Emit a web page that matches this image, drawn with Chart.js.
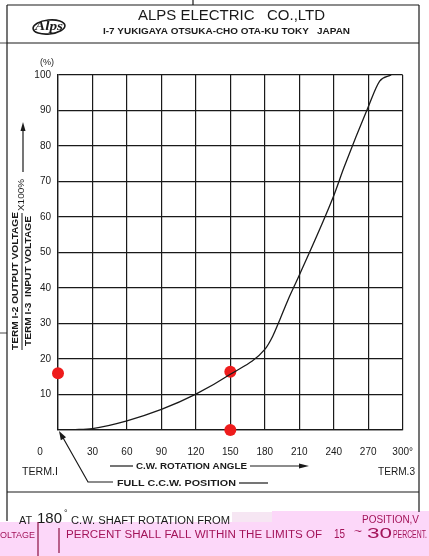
<!DOCTYPE html>
<html>
<head>
<meta charset="utf-8">
<script src="https://cdn.jsdelivr.net/npm/chart.js@4.4.1/dist/chart.umd.min.js"></script>
<style>
  html, body { margin: 0; padding: 0; background: #fff; }
  canvas { display: block; }
</style>
</head>
<body>
<canvas id="curva" width="429" height="556"></canvas>
<script>
// angulo de giro (grados) y tension de salida (%)
const angles = [0, 15, 30, 60, 90, 120, 150, 180, 187, 193, 200, 210, 240, 249, 270, 280, 290];
const outputPct = [0, 0.1, 0.4, 2.6, 5.8, 10.1, 15.7, 22.7, 26.5, 31, 36.5, 43.6, 66, 74, 91, 98.3, 100];

// puntos rojos marcados a mano
const dotAngles = [0, 150, 150];
const dotPct = [16, 16.4, 0];

const xTicks = [0, 30, 60, 90, 120, 150, 180, 210, 240, 270, 300];
const yTicks = [0, 10, 20, 30, 40, 50, 60, 70, 80, 90, 100];

const INK = '#1a1a1a';
const MAGENTA = '#a3145a';
const FONT = '"Liberation Sans", Arial, sans-serif';

function txt(ctx, s, x, y, o) {
  o = o || {};
  ctx.save();
  ctx.translate(x, y);
  if (o.rot) ctx.rotate(o.rot);
  ctx.font = (o.weight || 'normal') + ' ' + (o.size || 10) + 'px ' + (o.family || FONT);
  ctx.fillStyle = o.color || INK;
  ctx.textBaseline = 'middle';
  ctx.textAlign = 'left';
  const m = ctx.measureText(s).width;
  const w = o.w || m;
  const left = o.align === 'center' ? -w / 2 : (o.align === 'right' ? -w : 0);
  ctx.translate(left, 0);
  ctx.scale(w / m, 1);
  ctx.fillText(s, 0, 0);
  ctx.restore();
}

function line(ctx, pts, color, width) {
  ctx.save();
  ctx.strokeStyle = color || INK;
  ctx.lineWidth = width || 1.2;
  ctx.beginPath();
  ctx.moveTo(pts[0][0], pts[0][1]);
  for (let i = 1; i < pts.length; i++) ctx.lineTo(pts[i][0], pts[i][1]);
  ctx.stroke();
  ctx.restore();
}

function arrowHead(ctx, x, y, ang, len, half) {
  ctx.save();
  ctx.fillStyle = INK;
  ctx.translate(x, y);
  ctx.rotate(ang);
  ctx.beginPath();
  ctx.moveTo(0, 0);
  ctx.lineTo(-len, -half);
  ctx.lineTo(-len, half);
  ctx.closePath();
  ctx.fill();
  ctx.restore();
}

const hoja = {
  id: 'hoja',
  beforeDraw(chart) {
    const ctx = chart.ctx;
    ctx.save();
    ctx.fillStyle = '#fff';
    ctx.fillRect(0, 0, chart.width, chart.height);
    // zona rosa del pie
    ctx.fillStyle = '#fcd7f9';
    ctx.fillRect(0, 522, chart.width, 34);
    ctx.fillRect(272, 511, chart.width - 272, 12);
    ctx.fillStyle = '#f6e6f3';
    ctx.fillRect(232, 512, 40, 10);
    ctx.restore();
  },
  afterDraw(chart) {
    const ctx = chart.ctx;
    const a = chart.chartArea;

    // marco
    line(ctx, [[7, 5], [419, 5]]);
    line(ctx, [[7, 5], [7, 521]]);
    line(ctx, [[419, 5], [419, 512]]);
    line(ctx, [[7, 43], [419, 43]]);
    line(ctx, [[0, 43], [7, 43]], INK, 0.8);
    line(ctx, [[7, 492], [419, 492]]);
    line(ctx, [[193, 0], [193, 5]]);
    line(ctx, [[0, 333], [7, 333]], INK, 0.8);

    // cabecera
    ctx.save();
    ctx.strokeStyle = INK;
    ctx.lineWidth = 1.6;
    ctx.beginPath();
    ctx.ellipse(49, 27, 16, 7, -0.1, 0, Math.PI * 2);
    ctx.stroke();
    ctx.restore();
    txt(ctx, 'Alps', 49, 27, { size: 12, weight: 'italic bold', family: '"Liberation Serif", serif', align: 'center', w: 28 });
    txt(ctx, 'ALPS ELECTRIC   CO.,LTD', 138, 16, { size: 14, w: 187 });
    txt(ctx, 'I-7 YUKIGAYA OTSUKA-CHO OTA-KU TOKY   JAPAN', 103, 32, { size: 9, weight: 'bold', w: 247 });

    // eje y: unidades y rotulo
    txt(ctx, '(%)', 47, 63, { size: 9, align: 'center' });
    line(ctx, [[23, 172], [23, 130]], INK, 1.2);
    arrowHead(ctx, 23, 122, -Math.PI / 2, 9, 2.5);
    txt(ctx, 'X100%', 22, 211, { size: 9, rot: -Math.PI / 2, w: 32 });
    txt(ctx, 'TERM I-2 OUTPUT VOLTAGE', 16, 350, { size: 9, weight: 'bold', rot: -Math.PI / 2, w: 138 });
    line(ctx, [[22, 213], [22, 350]], INK, 1);
    txt(ctx, 'TERM I-3  INPUT VOLTAGE', 29, 346, { size: 9, weight: 'bold', rot: -Math.PI / 2, w: 130 });

    // eje x: rotulos
    txt(ctx, '0', 40, 452, { size: 10, align: 'center' });
    txt(ctx, 'TERM.I', 22, 472, { size: 10, w: 36 });
    txt(ctx, 'TERM.3', 378, 472, { size: 10, w: 37 });
    line(ctx, [[110, 466], [133, 466]]);
    txt(ctx, 'C.W. ROTATION ANGLE', 136, 466, { size: 9.5, weight: 'bold', w: 111 });
    line(ctx, [[250, 466], [300, 466]]);
    arrowHead(ctx, 309, 466, 0, 10, 2.5);
    txt(ctx, 'FULL C.C.W. POSITION', 117, 483, { size: 9.5, weight: 'bold', w: 119 });
    line(ctx, [[239, 483], [268, 483]]);
    line(ctx, [[113, 482], [88, 482], [62, 436]]);
    arrowHead(ctx, a.left + 1, a.bottom + 1, Math.atan2(-46, -26), 9, 3);

    // pie
    txt(ctx, 'AT', 19, 521, { size: 10, w: 13 });
    txt(ctx, '180', 37, 519, { size: 15, weight: '300', w: 25 });
    txt(ctx, '°', 64, 514, { size: 9 });
    txt(ctx, 'C.W. SHAFT ROTATION FROM', 71, 521, { size: 10, w: 159 });
    txt(ctx, 'POSITION,V', 362, 520, { size: 10, color: MAGENTA, w: 57 });
    txt(ctx, 'OLTAGE', 0, 535, { size: 9.5, color: MAGENTA, w: 35 });
    line(ctx, [[38, 522], [38, 556]], '#8a1040', 1.2);
    line(ctx, [[59, 528], [59, 553]], '#8a1040', 1.2);
    txt(ctx, 'PERCENT SHALL FALL WITHIN THE LIMITS OF', 66, 535, { size: 10, color: MAGENTA, w: 256 });
    txt(ctx, '15', 334, 535, { size: 12, weight: '300', color: MAGENTA, w: 11 });
    txt(ctx, '~', 354, 532, { size: 10, color: MAGENTA, w: 8 });
    txt(ctx, '30', 367, 534, { size: 15, weight: '300', color: MAGENTA, w: 25 });
    txt(ctx, 'PERCENT.', 393, 535, { size: 10, color: MAGENTA, w: 34 });
  }
};

const ctx = document.getElementById('curva').getContext('2d');

new Chart(ctx, {
  type: 'line',
  data: {
    datasets: [{
      label: 'salida',
      data: angles.map((x, i) => ({ x: x, y: outputPct[i] })),
      borderColor: INK,
      borderWidth: 1.3,
      pointRadius: 0,
      tension: 0.4,
      cubicInterpolationMode: 'monotone',
      fill: false
    }, {
      type: 'scatter',
      label: 'marcas',
      data: dotAngles.map((x, i) => ({ x: x, y: dotPct[i] })),
      pointRadius: 6,
      pointBackgroundColor: '#ee1c1c',
      pointBorderWidth: 0,
      borderColor: '#ee1c1c',
      showLine: false,
      clip: false
    }]
  },
  options: {
    responsive: false,
    animation: false,
    layout: { padding: { left: 0, top: 75, right: 19, bottom: 96 } },
    plugins: {
      legend: { display: false },
      tooltip: { enabled: false }
    },
    scales: {
      x: {
        type: 'linear',
        min: xTicks[0],
        max: xTicks[xTicks.length - 1],
        afterBuildTicks: s => { s.ticks = xTicks.map(v => ({ value: v })); },
        afterFit: s => { s.height = 30; },
        grid: { color: INK, lineWidth: 1.2, drawTicks: false },
        border: { color: INK, width: 1.3 },
        ticks: {
          padding: 16,
          color: INK,
          font: { family: FONT, size: 10 },
          maxRotation: 0,
          callback: v => v === 0 ? '' : (v === 300 ? '300°' : String(v))
        }
      },
      y: {
        min: yTicks[0],
        max: yTicks[yTicks.length - 1],
        afterBuildTicks: s => { s.ticks = yTicks.map(v => ({ value: v })); },
        afterFit: s => { s.width = 58; },
        grid: { color: INK, lineWidth: 1.2, drawTicks: false },
        border: { color: INK, width: 1.3 },
        ticks: {
          padding: 7,
          color: INK,
          font: { family: FONT, size: 10 },
          callback: v => v === 0 ? '' : String(v)
        }
      }
    }
  },
  plugins: [hoja]
});
</script>
</body>
</html>
